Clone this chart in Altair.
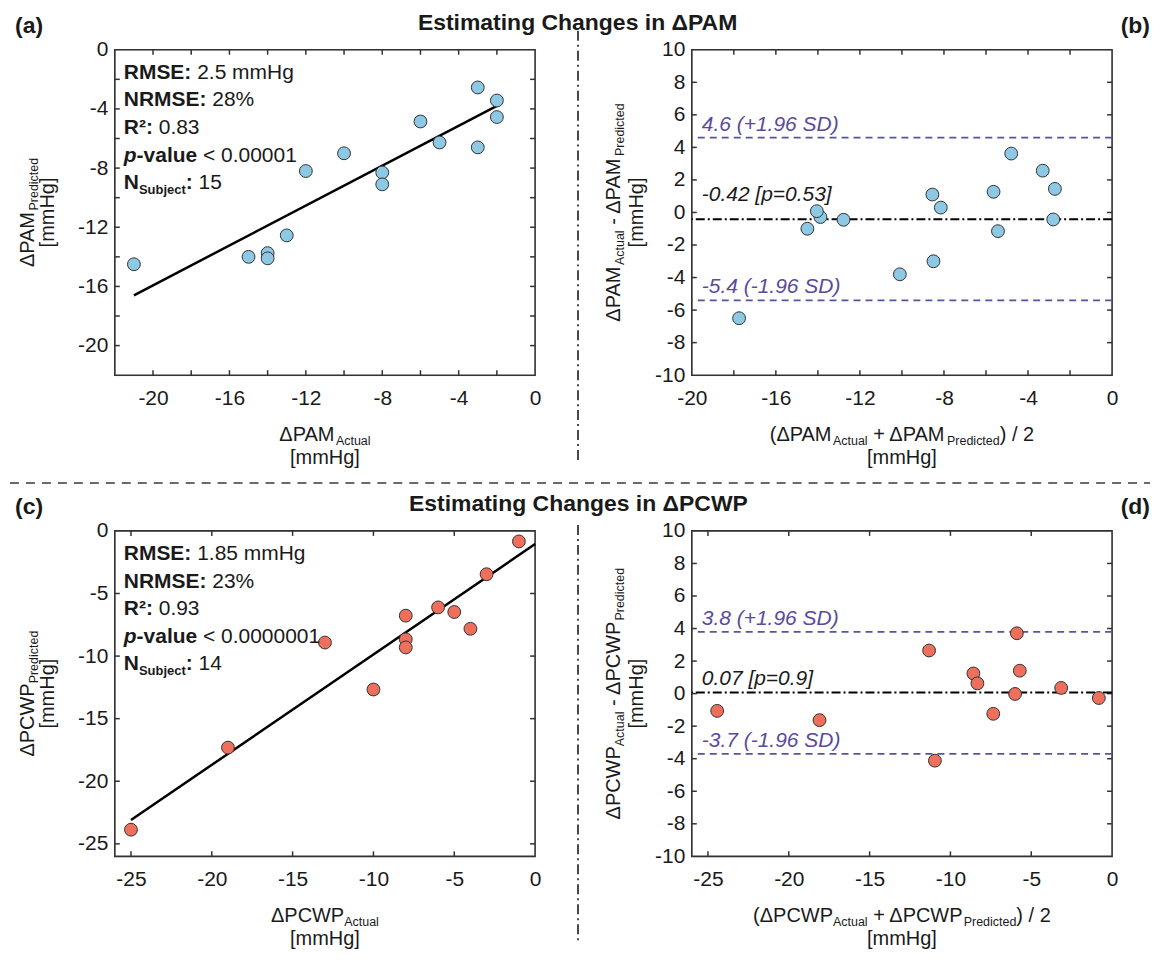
import altair as alt
import pandas as pd

FONT = "Liberation Sans"
W, H = 421, 326
INK = "#1a1a1a"
BLUE = "#8DC9E4"
RED = "#EE6F5B"
EDGE = "#333333"
LIM_LINE = "#55559F"
LIM_TEXT = "#5A4A9C"

# ---------------- data ----------------
# (a) PAM regression
pam_actual = [-21, -15, -14, -14, -13, -12, -10, -8, -8, -6, -5, -3, -3, -2, -2]
pam_predicted = [-14.5, -14.0, -13.75, -14.1, -12.55, -8.2, -7.0, -8.3, -9.1, -4.85, -6.27, -2.55, -6.6, -3.43, -4.55]
pam_fit_x = [-21, -2]
pam_fit_y = [-16.6, -3.8]
pam_stats = ["2.5 mmHg", "28%", "0.83", "< 0.00001", "15"]

# (b) PAM Bland-Altman
pam_ba_mean = [-17.75, -14.5, -13.88, -14.05, -12.78, -10.1, -8.5, -8.15, -8.55, -5.43, -5.64, -2.8, -4.8, -2.72, -3.3]
pam_ba_diff = [-6.5, -1.0, -0.28, 0.08, -0.45, -3.8, -3.0, 0.3, 1.1, -1.15, 1.27, -0.43, 3.62, 1.45, 2.57]
pam_ba_lines = [4.6, -0.42, -5.4]
pam_ba_labels = ["4.6 (+1.96 SD)", "-0.42 [p=0.53]", "-5.4 (-1.96 SD)"]

# (c) PCWP regression
pcwp_actual = [-25, -19, -13, -10, -8, -8, -8, -6, -5, -4, -3, -1]
pcwp_predicted = [-23.87, -17.31, -8.92, -12.67, -6.77, -8.66, -9.31, -6.11, -6.48, -7.82, -3.46, -0.84]
pcwp_fit_x = [-25, 0]
pcwp_fit_y = [-23.1, -1.05]
pcwp_stats = ["1.85 mmHg", "23%", "0.93", "< 0.0000001", "14"]

# (d) PCWP Bland-Altman
pcwp_ba_mean = [-24.43, -18.1, -11.32, -10.96, -8.58, -8.33, -7.35, -5.89, -6.0, -5.71, -3.15, -0.82]
pcwp_ba_diff = [-1.06, -1.63, 2.65, -4.12, 1.24, 0.63, -1.24, 3.71, -0.02, 1.41, 0.35, -0.27]
pcwp_ba_lines = [3.8, 0.07, -3.7]
pcwp_ba_labels = ["3.8 (+1.96 SD)", "0.07 [p=0.9]", "-3.7 (-1.96 SD)"]

# axis ticks / labels
pam_labels = [-20, -16, -12, -8, -4, 0]
pam_minor = [-20, -18, -16, -14, -12, -10, -8, -6, -4, -2]
ba_y_labels = [-10, -8, -6, -4, -2, 0, 2, 4, 6, 8, 10]
ba_y_minor = [-8, -6, -4, -2, 0, 2, 4, 6, 8]
ba_pam_x_minor = [-18, -16, -14, -12, -10, -8, -6, -4, -2]
pcwp_labels = [-25, -20, -15, -10, -5, 0]
pcwp_minor = [-25, -20, -15, -10, -5]

title_pam = "Estimating Changes in ΔPAM"
title_pcwp = "Estimating Changes in ΔPCWP"

# ---------------- text helpers ----------------
REG = {' ': 278, '(': 333, ')': 333, '+': 584, '-': 333, '.': 278, '/': 278, ':': 278, '<': 584,
       '=': 584, '[': 278, ']': 278, '%': 889, '²': 333, 'Δ': 668,
       'A': 667, 'C': 722, 'D': 722, 'E': 667, 'H': 722, 'M': 833, 'N': 722, 'P': 667, 'R': 722,
       'S': 667, 'W': 944, 'a': 556, 'b': 556, 'c': 500, 'd': 556, 'e': 556, 'g': 556, 'i': 222,
       'j': 222, 'l': 222, 'm': 833, 'n': 556, 'p': 556, 'r': 333, 's': 500, 't': 278, 'u': 556, 'v': 500}
BLD = {' ': 278, '(': 333, ')': 333, '+': 584, '-': 333, '.': 278, ':': 333, '<': 584, '%': 889,
       '²': 333, 'Δ': 722, 'A': 722, 'C': 722, 'D': 722, 'E': 667, 'M': 833, 'N': 722, 'P': 667,
       'R': 722, 'S': 667, 'W': 944, 'a': 556, 'b': 611, 'c': 556, 'd': 611, 'e': 556, 'g': 611,
       'i': 278, 'j': 278, 'l': 278, 'm': 889, 'n': 611, 'p': 611, 's': 556, 't': 333, 'u': 611, 'v': 556}

TICK_FS = 21
NOTE_FS = 21
TITLE_FS = 20
SUB_FS = 12.5
HEAD_FS = 23


def text_width(s, size, bold=False):
    t = BLD if bold else REG
    return sum(t.get(c, 556) for c in s) * size / 1000.0


def seg(text, size, bold=False, italic=False, shift=0, color=INK):
    return dict(text=text, size=size, bold=bold, italic=italic, shift=shift, color=color)


def text_run(segs, x, y, align="left", rotate=False):
    widths = [text_width(s["text"], s["size"], s["bold"]) for s in segs]
    total = sum(widths)
    cum = {"left": 0.0, "center": -total / 2.0, "right": -total}[align]
    out = []
    for s, w in zip(segs, widths):
        raw = s["text"]
        lead = len(raw) - len(raw.lstrip(" "))
        off = cum + text_width(" " * lead, s["size"], s["bold"])
        txt = raw.strip(" ")
        if rotate:
            px, py, ang = x + s["shift"], y - off, 270
        else:
            px, py, ang = x + off, y + s["shift"], 0
        out.append(
            alt.Chart(pd.DataFrame({"t": [txt]}))
            .mark_text(align="left", baseline="alphabetic", angle=ang, font=FONT,
                       fontSize=s["size"], fontWeight="bold" if s["bold"] else "normal",
                       fontStyle="italic" if s["italic"] else "normal", color=s["color"])
            .encode(x=alt.value(px), y=alt.value(py), text="t:N")
        )
        cum += w
    return out


def axis(values, pad):
    return alt.Axis(values=values, ticks=False, tickSize=0, domain=False, grid=False,
                    labelFont=FONT, labelFontSize=TICK_FS, labelColor=INK, labelPadding=pad,
                    labelFlush=False, labelOverlap=False, title=None,
                    labelExpr="datum.value < 0 ? '-' + abs(datum.value) : '' + datum.value")


def encoders(xdom, ydom, xlabels, ylabels):
    xs = alt.Scale(domain=xdom, nice=False, zero=False)
    ys = alt.Scale(domain=ydom, nice=False, zero=False)
    xa = axis(xlabels, 12)
    ya = axis(ylabels, 7)
    X = lambda f: alt.X(f"{f}:Q", scale=xs, axis=xa)
    Y = lambda f: alt.Y(f"{f}:Q", scale=ys, axis=ya)
    return X, Y


def frame_layers(X, Y, xt, yt):
    xdf = pd.DataFrame({"v": xt})
    ydf = pd.DataFrame({"v": yt})
    base = dict(color=EDGE, strokeWidth=1.5)
    return [
        alt.Chart(pd.DataFrame({"k": [0]})).mark_rect(fillOpacity=0, stroke=EDGE, strokeWidth=1.6)
        .encode(x=alt.value(0), x2=alt.value(W), y=alt.value(0), y2=alt.value(H)),
        alt.Chart(xdf).mark_rule(**base).encode(x=X("v"), y=alt.value(H), y2=alt.value(H - 5)),
        alt.Chart(xdf).mark_rule(**base).encode(x=X("v"), y=alt.value(0), y2=alt.value(5)),
        alt.Chart(ydf).mark_rule(**base).encode(y=Y("v"), x=alt.value(0), x2=alt.value(5)),
        alt.Chart(ydf).mark_rule(**base).encode(y=Y("v"), x=alt.value(W), x2=alt.value(W - 5)),
    ]


def points(X, Y, xs, ys, fill):
    df = pd.DataFrame({"x": xs, "y": ys})
    return alt.Chart(df).mark_circle(size=165, color=fill, opacity=1, stroke=EDGE,
                                     strokeWidth=1).encode(x=X("x"), y=Y("y"))


def fit_line(X, Y, fx, fy):
    df = pd.DataFrame({"x": fx, "y": fy})
    return alt.Chart(df).mark_line(color="black", strokeWidth=2.5).encode(x=X("x"), y=Y("y"))


def stats_layers(vals):
    f = NOTE_FS
    lines = [
        [seg("RMSE:", f, bold=True), seg(" " + vals[0], f)],
        [seg("NRMSE:", f, bold=True), seg(" " + vals[1], f)],
        [seg("R²:", f, bold=True), seg(" " + vals[2], f)],
        [seg("p", f, bold=True, italic=True), seg("-value", f, bold=True), seg(" " + vals[3], f)],
        [seg("N", f, bold=True), seg("Subject", 13, bold=True, shift=5), seg(":", f, bold=True),
         seg(" " + vals[4], f)],
    ]
    out = []
    for i, segs in enumerate(lines):
        out += text_run(segs, 9, 29 + i * 27.7)
    return out


def ba_layers(Y, lines, labels, mean_dy):
    hi, mean, lo = lines
    lim_df = pd.DataFrame({"v": [hi, lo], "label": [labels[0], labels[2]]})
    mean_df = pd.DataFrame({"v": [mean], "label": [labels[1]]})
    rules = [
        alt.Chart(lim_df).mark_rule(color=LIM_LINE, strokeDash=[7, 5], strokeWidth=1.7).encode(y=Y("v")),
        alt.Chart(mean_df).mark_rule(color="black", strokeDash=[9, 3, 2, 3], strokeWidth=2).encode(y=Y("v")),
    ]
    texts = [
        alt.Chart(lim_df).mark_text(align="left", baseline="alphabetic", dy=-7, font=FONT, fontSize=NOTE_FS,
                                    fontStyle="italic", color=LIM_TEXT)
        .encode(x=alt.value(10), y=Y("v"), text="label:N"),
        alt.Chart(mean_df).mark_text(align="left", baseline="alphabetic", dy=mean_dy, font=FONT, fontSize=NOTE_FS,
                                     fontStyle="italic", color=INK)
        .encode(x=alt.value(10), y=Y("v"), text="label:N"),
    ]
    return rules, texts


def xtitle(segs):
    return (text_run(segs, W / 2, H + 66, align="center")
            + text_run([seg("[mmHg]", TITLE_FS)], W / 2, H + 89, align="center"))


def ytitle(segs, x1, x2):
    return (text_run(segs, x1, H / 2, align="center", rotate=True)
            + text_run([seg("[mmHg]", TITLE_FS)], x2, H / 2, align="center", rotate=True))


def var_sub(name, sub):
    return [seg("Δ" + name, TITLE_FS), seg(sub, SUB_FS, shift=4)]


def decor(title, label, bottom_row):
    lay = text_run([seg(title, HEAD_FS, bold=True)], 464, -20, align="center")
    lay += text_run([seg(label, HEAD_FS, bold=True)], -100, -17)
    one = pd.DataFrame({"k": [0]})
    if not bottom_row:
        lay.append(alt.Chart(one).mark_rule(color="white", strokeWidth=1)
                   .encode(x=alt.value(-105), x2=alt.value(-104), y=alt.value(-40)))
        lay.append(alt.Chart(one).mark_rule(color="#3a3a3a", strokeDash=[9, 7], strokeWidth=1.7)
                   .encode(x=alt.value(-105), x2=alt.value(1037), y=alt.value(434)))
        lay.append(alt.Chart(one).mark_rule(color="#2a2a2a", strokeDash=[10, 4, 2, 4], strokeWidth=1.7)
                   .encode(x=alt.value(464), y=alt.value(-19), y2=alt.value(415)))
    else:
        lay.append(alt.Chart(one).mark_rule(color="#2a2a2a", strokeDash=[10, 4, 2, 4], strokeWidth=1.7)
                   .encode(x=alt.value(464), y=alt.value(-6), y2=alt.value(412)))
    return lay


def ba_xtitle(name):
    return xtitle([seg("(Δ" + name, TITLE_FS), seg("Actual", SUB_FS, shift=4), seg(" + Δ" + name, TITLE_FS),
                   seg("Predicted", SUB_FS, shift=4), seg(") / 2", TITLE_FS)])


def ba_ytitle(name):
    return ytitle([seg("Δ" + name, TITLE_FS), seg("Actual", SUB_FS, shift=4), seg(" - Δ" + name, TITLE_FS),
                   seg("Predicted", SUB_FS, shift=4)], -72, -49)


# ---------------- panel (a) ----------------
X, Y = encoders([-22, 0], [-22, 0], pam_labels, pam_labels)
pa = alt.layer(
    *frame_layers(X, Y, pam_minor, pam_minor),
    fit_line(X, Y, pam_fit_x, pam_fit_y),
    points(X, Y, pam_actual, pam_predicted, BLUE),
    *stats_layers(pam_stats),
    *xtitle(var_sub("PAM", "Actual")),
    *ytitle(var_sub("PAM", "Predicted"), -81, -61),
    *decor(title_pam, "(a)", False),
).properties(width=W, height=H)

# ---------------- panel (b) ----------------
X, Y = encoders([-20, 0], [-10, 10], pam_labels, ba_y_labels)
rules, texts = ba_layers(Y, pam_ba_lines, pam_ba_labels, -18)
pb = alt.layer(
    *frame_layers(X, Y, ba_pam_x_minor, ba_y_minor),
    *rules,
    points(X, Y, pam_ba_mean, pam_ba_diff, BLUE),
    *texts,
    *ba_xtitle("PAM"),
    *ba_ytitle("PAM"),
    *text_run([seg("(b)", HEAD_FS, bold=True)], 459, -17, align="right"),
).properties(width=W, height=H)

# ---------------- panel (c) ----------------
X, Y = encoders([-26, 0], [-26, 0], pcwp_labels, pcwp_labels)
pc = alt.layer(
    *frame_layers(X, Y, pcwp_minor, pcwp_minor),
    fit_line(X, Y, pcwp_fit_x, pcwp_fit_y),
    points(X, Y, pcwp_actual, pcwp_predicted, RED),
    *stats_layers(pcwp_stats),
    *xtitle(var_sub("PCWP", "Actual")),
    *ytitle(var_sub("PCWP", "Predicted"), -81, -61),
    *decor(title_pcwp, "(c)", True),
).properties(width=W, height=H)

# ---------------- panel (d) ----------------
X, Y = encoders([-26, 0], [-10, 10], pcwp_labels, ba_y_labels)
rules, texts = ba_layers(Y, pcwp_ba_lines, pcwp_ba_labels, -7)
pd_ = alt.layer(
    *frame_layers(X, Y, pcwp_minor, ba_y_minor),
    *rules,
    points(X, Y, pcwp_ba_mean, pcwp_ba_diff, RED),
    *texts,
    *ba_xtitle("PCWP"),
    *ba_ytitle("PCWP"),
    *text_run([seg("(d)", HEAD_FS, bold=True)], 459, -17, align="right"),
).properties(width=W, height=H)

chart = (
    alt.concat(pa, pb, pc, pd_, columns=2, spacing={"row": 156, "column": 157}, bounds="flush")
    .properties(padding=0)
    .configure_view(strokeWidth=0)
    .configure(font=FONT)
)

chart.save("out.html", embed_options={"renderer": "svg", "actions": False})
